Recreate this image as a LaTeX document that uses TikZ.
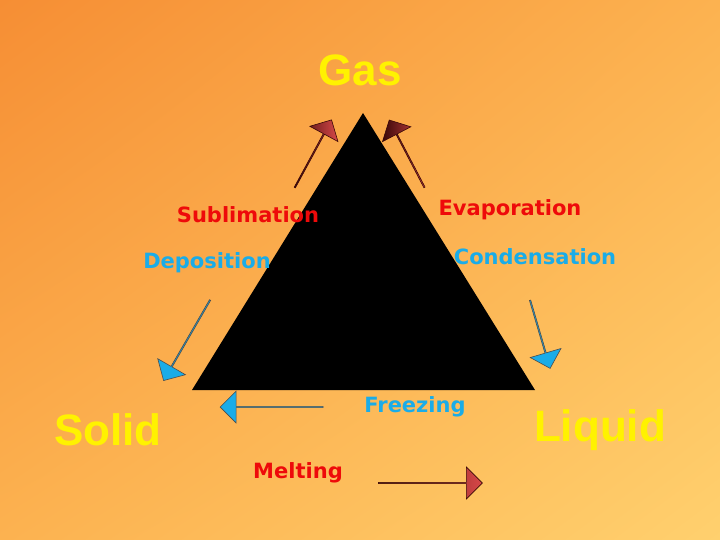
\documentclass[tikz,border=0pt]{standalone}
\usepackage{fontspec}
\setmainfont{Liberation Sans}
\newfontfamily\wide{DejaVu Sans}
\usetikzlibrary{shapes.arrows,shadings}
\definecolor{tred}{HTML}{EE0A0A}
\definecolor{tblue}{HTML}{1AACE8}
\definecolor{tyel}{HTML}{FFF200}
\definecolor{ardark}{HTML}{3A0808}
\definecolor{arred}{HTML}{D84848}
\definecolor{bgA}{RGB}{246,142,52}
\definecolor{bgB}{RGB}{252,178,80}
\definecolor{bgC}{RGB}{255,208,110}
\tikzset{
 redarr/.style={single arrow, draw=ardark, line width=0.6pt, left color=ardark, right color=arred,
   minimum width=32pt, single arrow head extend=7pt, inner sep=0pt},
 bluearr/.style={single arrow, draw=black!70, line width=0.6pt, fill=tblue,
   minimum width=32pt, single arrow head extend=7pt, inner sep=0pt},
 big/.style={font=\bfseries\fontsize{44}{48}\selectfont, text=tyel},
 lbl/.style={font=\wide\bfseries\fontsize{21}{24}\selectfont},
}
\begin{document}
\begin{tikzpicture}[x=1pt,y=-1pt]
\shade[upper left=bgA, upper right=bgB, lower left=bgB, lower right=bgC]
 (0,0) rectangle (720,540);
\useasboundingbox (0,0) rectangle (720,540);
\fill[black] (363,113) -- (535,390) -- (192,390) -- cycle;
\node[redarr, minimum height=77pt, rotate=61.5] (a1) at (313,154) {};
\node[redarr, minimum height=76pt, rotate=117.6] (a2) at (407,154) {};
\node[bluearr, minimum height=71pt, rotate=-73.6] (a3) at (540,334) {};
\node[bluearr, minimum height=93pt, rotate=-120] (a4) at (187,340) {};
\node[bluearr, minimum height=103pt, rotate=180] (a5) at (272,407) {};
\node[redarr, minimum height=104pt] (a6) at (430,483) {};
\node[big] (gas) at (360,70) {Gas};
\node[big] (solid) at (108,430) {Solid};
\node[big] (liquid) at (600,430) {Liquid};
\node[lbl, text=tred] (sub) at (248,215) {Sublimation};
\node[lbl, text=tblue] (dep) at (207,263) {Deposition};
\node[lbl, text=tred] (eva) at (510,210) {Evaporation};
\node[lbl, text=tblue] (con) at (535,257) {Condensation};
\node[lbl, text=tblue] (fre) at (415,407) {Freezing};
\node[lbl, text=tred] (mel) at (298,473) {Melting};
\end{tikzpicture}
\end{document}
